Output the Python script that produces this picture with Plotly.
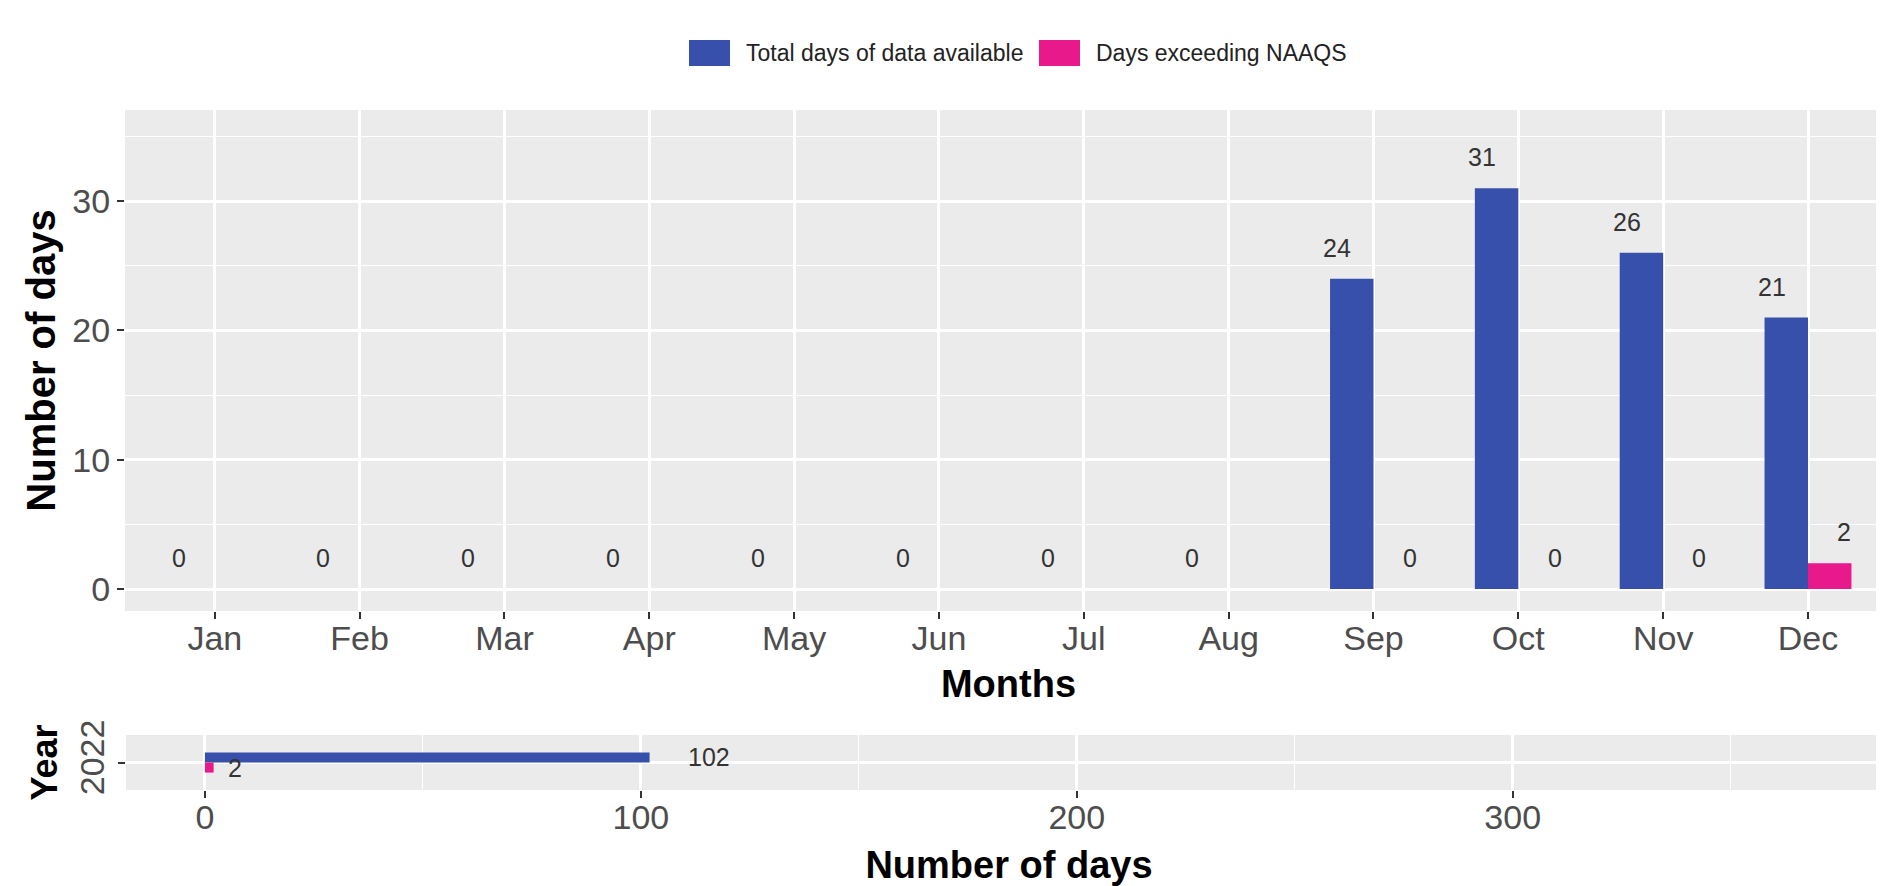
import plotly.graph_objs as go

months = ['Jan', 'Feb', 'Mar', 'Apr', 'May', 'Jun', 'Jul', 'Aug', 'Sep', 'Oct', 'Nov', 'Dec']
total_days = [0, 0, 0, 0, 0, 0, 0, 0, 24, 31, 26, 21]
exceed_days = [None, None, None, None, None, None, None, None, 0, 0, 0, 2]

years = ['2022']
year_total = [102]
year_exceed = [2]

blue = '#3750AB'
pink = '#E8198B'
font = 'Liberation Sans, Arial, sans-serif'

pos = list(range(len(months)))
ypos = list(range(len(years)))

data = [
    go.Bar(x=pos, y=total_days, width=0.3, offset=-0.3, marker=dict(color=blue, line=dict(width=0)),
           xaxis='x', yaxis='y', showlegend=False),
    go.Bar(x=pos, y=exceed_days, width=0.3, offset=0, marker=dict(color=pink, line=dict(width=0)),
           xaxis='x', yaxis='y', showlegend=False),
    go.Bar(y=ypos, x=year_total, orientation='h', width=0.22, offset=0, marker=dict(color=blue, line=dict(width=0)),
           xaxis='x2', yaxis='y2', showlegend=False),
    go.Bar(y=ypos, x=year_exceed, orientation='h', width=0.22, offset=-0.22, marker=dict(color=pink, line=dict(width=0)),
           xaxis='x2', yaxis='y2', showlegend=False),
]

# bar value labels
label_font = dict(size=25, color='#333333', family=font)
annotations = []
for i, v in enumerate(total_days):
    annotations.append(dict(x=i - 0.25, y=v, xref='x', yref='y', text=str(v), showarrow=False,
                            yshift=31, font=label_font))
for i, v in enumerate(exceed_days):
    if v is None:
        continue
    annotations.append(dict(x=i + 0.25, y=v, xref='x', yref='y', text=str(v), showarrow=False,
                            yshift=31, font=label_font))
for i, v in enumerate(year_total):
    annotations.append(dict(x=v, y=i + 0.11, xref='x2', yref='y2', text=str(v), showarrow=False,
                            xanchor='left', xshift=len(str(v)) * 12, font=label_font))
for i, v in enumerate(year_exceed):
    annotations.append(dict(x=v, y=i - 0.11, xref='x2', yref='y2', text=str(v), showarrow=False,
                            xanchor='left', xshift=len(str(v)) * 12, font=label_font))

# legend drawn by hand so the keys can be large like the original
legend_items = [('Total days of data available', blue, 681), ('Days exceeding NAAQS', pink, 1031)]
shapes = []
W, H = 1884, 886
for label, col, px in legend_items:
    shapes.append(dict(type='rect', xref='paper', yref='paper', x0=px / W, x1=(px + 41) / W,
                       y0=1 - 58 / H, y1=1 - 32 / H, fillcolor=col, line=dict(width=0)))
    annotations.append(dict(x=(px + 55) / W, y=1 - 45 / H, xref='paper', yref='paper', text=label,
                            showarrow=False, xanchor='left', yanchor='middle',
                            font=dict(size=23, color='#222222', family=font)))

tick_font = dict(size=34, color='#4D4D4D', family=font)
xtitle_font = dict(size=38, color='black', family=font)
ytitle_font = dict(size=40, color='black', family=font)

axis_style = dict(ticks='outside', ticklen=7, tickwidth=2, tickcolor='#333333', tickfont=tick_font,
                  showgrid=True, gridcolor='white', gridwidth=2.5, zeroline=False, showline=False,
                  automargin=False)

layout = go.Layout(
    width=W, height=H,
    margin=dict(l=0, r=0, t=0, b=0),
    paper_bgcolor='white',
    plot_bgcolor='#EBEBEB',
    barmode='overlay',
    font=dict(family=font),
    xaxis=dict(domain=[117 / W, 1], anchor='y', range=[-0.62, 11.58],
               tickvals=pos, ticktext=months, ticklabelstandoff=-10,
               title=dict(text='<b>Months</b>', font=xtitle_font, standoff=14), **axis_style),
    yaxis=dict(domain=[1 - 603 / H, 1 - 102 / H], anchor='x', range=[-1.7, 37.05],
               tickvals=[0, 10, 20, 30],
               minor=dict(dtick=5, tick0=0, showgrid=True, gridcolor='white', gridwidth=1.2),
               title=dict(text='<b>Number of days</b>', font=ytitle_font, standoff=4), **axis_style),
    xaxis2=dict(domain=[118 / W, 1], anchor='y2', range=[-18.1, 387.0],
                tickvals=[0, 100, 200, 300], ticklabelstandoff=-10,
                minor=dict(dtick=50, tick0=0, showgrid=True, gridcolor='white', gridwidth=1.2),
                title=dict(text='<b>Number of days</b>', font=xtitle_font, standoff=16), **axis_style),
    yaxis2=dict(domain=[1 - 782 / H, 1 - 727 / H], anchor='x2', range=[-0.6, 0.6],
                tickvals=ypos, ticktext=years, tickangle=-90,
                title=dict(text='<b>Year</b>', font=dict(size=36, color='black', family=font), standoff=4),
                **axis_style),
    annotations=annotations,
    shapes=shapes,
)

fig = go.Figure(data, layout)
fig.write_html('out.html')
